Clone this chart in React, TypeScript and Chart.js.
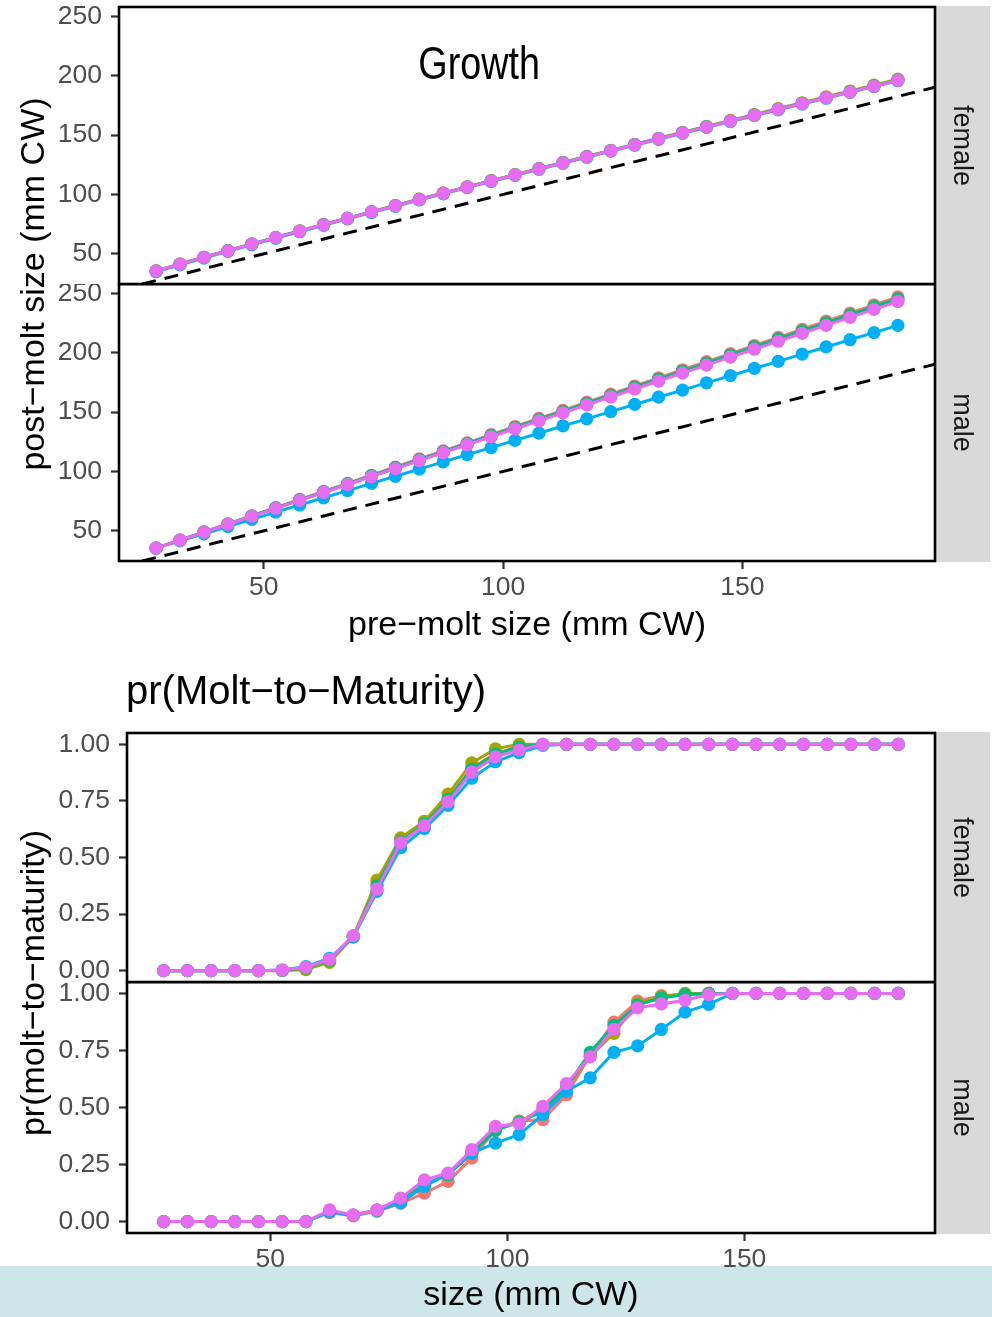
import { useEffect, useRef } from "react";
import { Chart, registerables } from "chart.js";

Chart.register(...registerables);

const FAMILY = "'Liberation Sans', Arial, Helvetica, sans-serif";
Chart.defaults.font.family = FAMILY;

// Size bins (mm CW) shared by every panel
const sizeBins = [
  27.5, 32.5, 37.5, 42.5, 47.5, 52.5, 57.5, 62.5, 67.5, 72.5, 77.5, 82.5, 87.5, 92.5, 97.5, 102.5,
  107.5, 112.5, 117.5, 122.5, 127.5, 132.5, 137.5, 142.5, 147.5, 152.5, 157.5, 162.5, 167.5, 172.5, 177.5, 182.5,
];

// One colour per model run (A..E), drawn in this order (E on top)
const seriesColors = ["#F8766D", "#A3A500", "#00BF7D", "#00B0F6", "#E76BF3"];

// ---- Growth: post-molt size (mm CW) ----
const growthFemaleA = [35.6, 41.4, 47.1, 52.7, 58.2, 63.7, 69.2, 74.6, 79.9, 85.3, 90.6, 95.9, 101.1, 106.3, 111.5, 116.6, 121.7, 126.8, 131.9, 136.9, 142.0, 147.0, 152.0, 157.0, 162.0, 166.9, 171.9, 176.8, 181.7, 186.6, 191.5, 196.4];
const growthFemaleB = [35.6, 41.4, 47.1, 52.7, 58.3, 63.8, 69.3, 74.7, 80.0, 85.4, 90.7, 96.0, 101.2, 106.4, 111.6, 116.7, 121.8, 127.0, 132.1, 137.1, 142.2, 147.3, 152.3, 157.3, 162.3, 167.3, 172.3, 177.2, 182.2, 187.1, 192.0, 197.0];
const growthFemaleC = [35.5, 41.3, 47.1, 52.7, 58.2, 63.7, 69.2, 74.6, 79.9, 85.3, 90.5, 95.8, 101.0, 106.2, 111.4, 116.5, 121.6, 126.7, 131.8, 136.8, 141.9, 146.9, 151.9, 156.8, 161.8, 166.8, 171.7, 176.6, 181.5, 186.4, 191.3, 196.2];
const growthFemaleD = [34.9, 40.7, 46.4, 52.1, 57.6, 63.1, 68.6, 74.0, 79.4, 84.7, 90.0, 95.3, 100.5, 105.7, 110.9, 116.0, 121.1, 126.2, 131.3, 136.4, 141.4, 146.4, 151.4, 156.4, 161.3, 166.3, 171.2, 176.1, 181.0, 185.9, 190.8, 195.7];
const growthFemaleE = [35.5, 41.3, 47.0, 52.6, 58.1, 63.6, 69.1, 74.5, 79.8, 85.2, 90.4, 95.7, 100.9, 106.1, 111.3, 116.4, 121.5, 126.6, 131.7, 136.7, 141.8, 146.8, 151.8, 156.7, 161.7, 166.6, 171.6, 176.5, 181.4, 186.2, 191.1, 196.0];

const growthMaleA = [35.4, 42.2, 49.1, 55.9, 62.7, 69.5, 76.4, 83.2, 90.0, 96.8, 103.7, 110.5, 117.3, 124.1, 131.0, 137.8, 144.6, 151.4, 158.3, 165.1, 171.9, 178.7, 185.6, 192.4, 199.2, 206.0, 212.9, 219.7, 226.5, 233.3, 240.2, 247.0];
const growthMaleB = [35.4, 42.1, 48.9, 55.6, 62.3, 69.1, 75.8, 82.5, 89.2, 96.0, 102.7, 109.4, 116.2, 122.9, 129.6, 136.4, 143.1, 149.8, 156.5, 163.3, 170.0, 176.7, 183.5, 190.2, 196.9, 203.7, 210.4, 217.1, 223.8, 230.6, 237.3, 244.0];
const growthMaleC = [35.4, 42.2, 48.9, 55.7, 62.5, 69.3, 76.1, 82.8, 89.6, 96.4, 103.2, 109.9, 116.7, 123.5, 130.3, 137.0, 143.8, 150.6, 157.4, 164.1, 170.9, 177.7, 184.5, 191.2, 198.0, 204.8, 211.6, 218.3, 225.1, 231.9, 238.7, 245.4];
const growthMaleD = [35.4, 41.5, 47.5, 53.6, 59.6, 65.7, 71.7, 77.8, 83.8, 89.9, 95.9, 102.0, 108.0, 114.1, 120.1, 126.2, 132.2, 138.3, 144.3, 150.4, 156.4, 162.5, 168.5, 174.6, 180.6, 186.7, 192.7, 198.8, 204.8, 210.9, 216.9, 223.0];
const growthMaleE = [35.4, 42.1, 48.8, 55.5, 62.2, 68.9, 75.6, 82.3, 89.0, 95.7, 102.4, 109.1, 115.8, 122.5, 129.2, 135.9, 142.6, 149.3, 156.0, 162.7, 169.4, 176.1, 182.8, 189.5, 196.2, 202.9, 209.6, 216.3, 223.0, 229.7, 236.4, 243.1];

// ---- Probability of the molt to maturity ----
const maturityFemaleA = [0, 0, 0, 0, 0, 0.002, 0.010, 0.045, 0.152, 0.380, 0.575, 0.650, 0.760, 0.895, 0.960, 0.990, 1, 1, 1, 1, 1, 1, 1, 1, 1, 1, 1, 1, 1, 1, 1, 1];
const maturityFemaleB = [0, 0, 0, 0, 0, 0, 0.005, 0.037, 0.150, 0.400, 0.587, 0.660, 0.780, 0.918, 0.980, 1, 1, 1, 1, 1, 1, 1, 1, 1, 1, 1, 1, 1, 1, 1, 1, 1];
const maturityFemaleC = [0, 0, 0, 0, 0, 0.002, 0.012, 0.046, 0.152, 0.375, 0.570, 0.648, 0.757, 0.890, 0.957, 0.988, 1, 1, 1, 1, 1, 1, 1, 1, 1, 1, 1, 1, 1, 1, 1, 1];
const maturityFemaleD = [0, 0, 0, 0, 0, 0.003, 0.018, 0.055, 0.148, 0.350, 0.543, 0.628, 0.730, 0.850, 0.923, 0.963, 0.995, 1, 1, 1, 1, 1, 1, 1, 1, 1, 1, 1, 1, 1, 1, 1];
const maturityFemaleE = [0, 0, 0, 0, 0, 0.003, 0.015, 0.050, 0.155, 0.360, 0.565, 0.641, 0.746, 0.877, 0.945, 0.975, 1, 1, 1, 1, 1, 1, 1, 1, 1, 1, 1, 1, 1, 1, 1, 1];

const maturityMaleA = [0, 0, 0, 0, 0, 0, 0, 0.040, 0.025, 0.045, 0.080, 0.125, 0.176, 0.278, 0.400, 0.440, 0.447, 0.556, 0.730, 0.874, 0.966, 0.990, 0.995, 1, 1, 1, 1, 1, 1, 1, 1, 1];
const maturityMaleB = [0, 0, 0, 0, 0, 0, 0, 0.045, 0.028, 0.050, 0.095, 0.165, 0.205, 0.300, 0.405, 0.439, 0.490, 0.590, 0.725, 0.825, 0.955, 0.985, 1, 1, 1, 1, 1, 1, 1, 1, 1, 1];
const maturityMaleC = [0, 0, 0, 0, 0, 0, 0, 0.046, 0.028, 0.050, 0.090, 0.160, 0.205, 0.300, 0.400, 0.435, 0.485, 0.590, 0.742, 0.860, 0.950, 0.980, 0.995, 1, 1, 1, 1, 1, 1, 1, 1, 1];
const maturityMaleD = [0, 0, 0, 0, 0, 0, 0, 0.042, 0.027, 0.048, 0.083, 0.154, 0.210, 0.300, 0.344, 0.381, 0.469, 0.571, 0.630, 0.742, 0.770, 0.842, 0.918, 0.952, 1, 1, 1, 1, 1, 1, 1, 1];
const maturityMaleE = [0, 0, 0, 0, 0, 0, 0, 0.051, 0.029, 0.051, 0.103, 0.183, 0.212, 0.315, 0.417, 0.429, 0.505, 0.605, 0.722, 0.842, 0.937, 0.954, 0.970, 0.995, 1, 1, 1, 1, 1, 1, 1, 1];

// Axis ticks and limits
const xTicks = [50, 100, 150];
const growthTicks = [50, 100, 150, 200, 250];
const maturityTicks = [0, 0.25, 0.5, 0.75, 1];
const xRange = [19.75, 190.25];
const growthRange = [24.6, 257.8];
const maturityRange = [-0.05, 1.05];

const TICK_FONT = 26.5;
const STRIP_FONT = 27;
const TITLE_FONT = 34;
const STRIP_SPACE = 57;

type Panel = {
  top: number;
  height: number;
  padTop: number;
  padBottom: number;
  yAxisWidth: number;
  xAxisHeight: number;
  xTitle?: string;
  xTitlePad?: number;
  series: number[][];
  yRange: number[];
  yTicks: number[];
  yFormat: (v: number) => string;
  strip: string;
  identity: boolean;
  extra?: (chart: Chart) => void;
};

function drawRotated(ctx: CanvasRenderingContext2D, text: string, x: number, y: number, angle: number, font: string, color: string) {
  ctx.save();
  ctx.font = font;
  ctx.fillStyle = color;
  ctx.textAlign = "center";
  ctx.textBaseline = "middle";
  ctx.translate(x, y);
  ctx.rotate(angle);
  ctx.fillText(text, 0, 0);
  ctx.restore();
}

const panels: Panel[] = [
  {
    top: 0,
    height: 650,
    padTop: 7,
    padBottom: 366,
    yAxisWidth: 119,
    xAxisHeight: 0,
    series: [growthFemaleA, growthFemaleB, growthFemaleC, growthFemaleD, growthFemaleE],
    yRange: growthRange,
    yTicks: growthTicks,
    yFormat: (v) => String(v),
    strip: "female",
    identity: true,
    extra: (chart) => {
      const ctx = chart.ctx;
      drawRotated(ctx, "post\u2212molt size (mm CW)", 35, 284, -Math.PI / 2, `${TITLE_FONT}px ${FAMILY}`, "#000");
      const px = chart.scales.x.getPixelForValue(95);
      const py = chart.scales.y.getPixelForValue(208);
      ctx.save();
      ctx.font = `46px ${FAMILY}`;
      ctx.fillStyle = "#000";
      ctx.textAlign = "center";
      ctx.textBaseline = "middle";
      ctx.translate(px, py);
      ctx.scale(0.82, 1);
      ctx.fillText("Growth", 0, 0);
      ctx.restore();
    },
  },
  {
    top: 284,
    height: 366,
    padTop: 0,
    padBottom: 0,
    yAxisWidth: 119,
    xAxisHeight: 89,
    xTitle: "pre\u2212molt size (mm CW)",
    xTitlePad: 3.6,
    series: [growthMaleA, growthMaleB, growthMaleC, growthMaleD, growthMaleE],
    yRange: growthRange,
    yTicks: growthTicks,
    yFormat: (v) => String(v),
    strip: "male",
    identity: true,
  },
  {
    top: 650,
    height: 667,
    padTop: 83,
    padBottom: 335,
    yAxisWidth: 127,
    xAxisHeight: 0,
    series: [maturityFemaleA, maturityFemaleB, maturityFemaleC, maturityFemaleD, maturityFemaleE],
    yRange: maturityRange,
    yTicks: maturityTicks,
    yFormat: (v) => v.toFixed(2),
    strip: "female",
    identity: false,
    extra: (chart) => {
      const ctx = chart.ctx;
      drawRotated(ctx, "pr(molt\u2212to\u2212maturity)", 35, 333, -Math.PI / 2, `${TITLE_FONT}px ${FAMILY}`, "#000");
      ctx.save();
      ctx.font = `40px ${FAMILY}`;
      ctx.fillStyle = "#000";
      ctx.textAlign = "left";
      ctx.textBaseline = "alphabetic";
      ctx.fillText("pr(Molt\u2212to\u2212Maturity)", 126, 54);
      ctx.restore();
    },
  },
  {
    top: 982,
    height: 335,
    padTop: 0,
    padBottom: 0,
    yAxisWidth: 127,
    xAxisHeight: 84,
    xTitle: "size (mm CW)",
    xTitlePad: 1,
    series: [maturityMaleA, maturityMaleB, maturityMaleC, maturityMaleD, maturityMaleE],
    yRange: maturityRange,
    yTicks: maturityTicks,
    yFormat: (v) => v.toFixed(2),
    strip: "male",
    identity: false,
  },
];

function buildChart(canvas: HTMLCanvasElement, spec: Panel): Chart {
  const datasets: any[] = [];
  if (spec.identity) {
    // 1:1 reference line across the visible part of the panel
    const lo = Math.max(xRange[0], spec.yRange[0]);
    const hi = Math.min(xRange[1], spec.yRange[1]);
    datasets.push({
      label: "1:1",
      data: [lo, hi].map((v) => ({ x: v, y: v })),
      borderColor: "#000",
      borderWidth: 3,
      borderDash: [14, 9],
      pointRadius: 0,
      fill: false,
      order: 10,
    });
  }
  spec.series.forEach((vals, i) => {
    datasets.push({
      label: "ABCDE"[i],
      data: vals.map((y, k) => ({ x: sizeBins[k], y })),
      borderColor: seriesColors[i],
      backgroundColor: seriesColors[i],
      borderWidth: 3,
      pointRadius: 6.6,
      pointHoverRadius: 6.6,
      pointBorderWidth: 0,
      tension: 0,
      fill: false,
      order: 5 - i,
    });
  });

  const tickGrid = {
    display: true,
    drawOnChartArea: false,
    drawTicks: true,
    tickLength: 8,
    tickWidth: 2.2,
    tickColor: "#333333",
  };

  const decor = {
    id: "panelDecor",
    afterDraw(chart: Chart) {
      const { ctx, chartArea: a } = chart;
      ctx.save();
      ctx.fillStyle = "#D9D9D9";
      ctx.fillRect(a.right + 1, a.top - 1, 54, a.bottom - a.top + 2);
      ctx.strokeStyle = "#000";
      ctx.lineWidth = 2.6;
      ctx.strokeRect(a.left, a.top, a.right - a.left, a.bottom - a.top);
      ctx.restore();
      drawRotated(ctx, spec.strip, a.right + 26, (a.top + a.bottom) / 2, Math.PI / 2, `${STRIP_FONT}px ${FAMILY}`, "#1a1a1a");
      if (spec.extra) spec.extra(chart);
    },
  };

  return new Chart(canvas, {
    type: "line",
    data: { datasets },
    options: {
      animation: false,
      responsive: false,
      maintainAspectRatio: false,
      events: [],
      layout: {
        autoPadding: false,
        padding: { top: spec.padTop, right: STRIP_SPACE, bottom: spec.padBottom, left: 0 },
      } as any,
      plugins: {
        legend: { display: false },
        tooltip: { enabled: false },
        title: { display: false },
      },
      scales: {
        x: {
          type: "linear",
          min: xRange[0],
          max: xRange[1],
          display: spec.xAxisHeight > 0,
          afterBuildTicks: (s: any) => {
            s.ticks = xTicks.map((v) => ({ value: v }));
          },
          afterFit: (s: any) => {
            s.height = spec.xAxisHeight;
            s.paddingLeft = 0;
            s.paddingRight = 0;
          },
          grid: tickGrid,
          border: { display: false },
          ticks: {
            color: "#4d4d4d",
            font: { size: TICK_FONT },
            padding: 2.8,
            maxRotation: 0,
            autoSkip: false,
            callback: (v: any) => String(v),
          },
          title: {
            display: !!spec.xTitle,
            text: spec.xTitle || "",
            color: "#000",
            font: { size: TITLE_FONT },
            padding: { top: 0, bottom: spec.xTitlePad || 0 },
          },
        },
        y: {
          type: "linear",
          min: spec.yRange[0],
          max: spec.yRange[1],
          afterBuildTicks: (s: any) => {
            s.ticks = spec.yTicks.map((v) => ({ value: v }));
          },
          afterFit: (s: any) => {
            s.width = spec.yAxisWidth;
            s.paddingTop = 0;
            s.paddingBottom = 0;
          },
          grid: tickGrid,
          border: { display: false },
          ticks: {
            color: "#4d4d4d",
            font: { size: TICK_FONT },
            padding: 9,
            autoSkip: false,
            callback: (v: any) => spec.yFormat(Number(v)),
          },
        },
      },
    },
    plugins: [decor],
  } as any);
}

export default function App() {
  const canvases = useRef<(HTMLCanvasElement | null)[]>([]);

  useEffect(() => {
    const charts = panels.map((spec, i) => buildChart(canvases.current[i] as HTMLCanvasElement, spec));
    return () => charts.forEach((c) => c.destroy());
  }, []);

  return (
    <div style={{ position: "absolute", left: 0, top: 0, width: 992, height: 1317, background: "#ffffff", overflow: "hidden" }}>
      <div style={{ position: "absolute", left: 0, top: 1266, width: 992, height: 51, background: "#CDE6E9" }} />
      {panels.map((p, i) => (
        <canvas
          key={i}
          ref={(el) => {
            canvases.current[i] = el;
          }}
          width={992}
          height={p.height}
          style={{ position: "absolute", left: 0, top: p.top, width: 992, height: p.height }}
        />
      ))}
    </div>
  );
}
